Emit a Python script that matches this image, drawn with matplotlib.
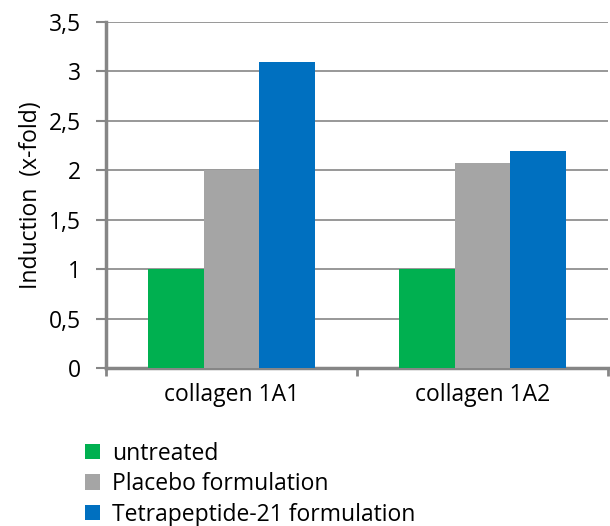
import numpy as np
import matplotlib.pyplot as plt
from matplotlib.ticker import FuncFormatter, MultipleLocator

plt.rcParams['font.family'] = ['Open Sans', 'DejaVu Sans']

# data
genes = ['collagen 1A1', 'collagen 1A2']
series = ['untreated', 'Placebo formulation', 'Tetrapeptide-21 formulation']
untreated = [1.0, 1.0]
placebo = [2.0, 2.07]
tetrapeptide = [3.1, 2.2]
colors = ['#00B050', '#A5A5A5', '#0070C0']

fig = plt.figure(figsize=(6.1, 5.26), dpi=100)
ax = fig.add_axes([0.1738, 0.3004, 0.8229, 0.6578])

x = np.arange(len(genes))
w = 0.223
for i, (vals, lab) in enumerate(zip([untreated, placebo, tetrapeptide], series)):
    ax.bar(x + (i - 1) * w, vals, width=w, color=colors[i], label=lab, zorder=3)

ax.set_xlim(-0.5, 1.5)
ax.set_ylim(0, 3.5)
ax.yaxis.set_major_locator(MultipleLocator(0.5))
ax.yaxis.set_major_formatter(FuncFormatter(lambda v, p: ('%g' % v).replace('.', ',')))
ax.yaxis.grid(True, color='#868686', linewidth=1.2, zorder=0)

ax.set_xticks([-0.5, 0.5, 1.5])
ax.set_xticklabels([])
ax.set_xticks(x, minor=True)
ax.set_xticklabels(genes, minor=True, fontsize=16.5)
ax.tick_params(axis='x', which='minor', length=0, pad=11)
ax.tick_params(axis='x', which='major', length=6, width=2, color='#868686')
ax.tick_params(axis='y', length=7, width=1.5, color='#868686', labelsize=16.5, pad=11)

for s in ['top', 'right']:
    ax.spines[s].set_visible(False)
for s in ['left', 'bottom']:
    ax.spines[s].set_color('#868686')
    ax.spines[s].set_linewidth(2.5)

ax.set_ylabel('Induction  (x-fold)', fontsize=16.5, labelpad=4)

handles, labels = ax.get_legend_handles_labels()
fig.legend(handles, labels, loc='upper left', bbox_to_anchor=(0.12, 0.182),
           frameon=False, fontsize=16.5, handlelength=0.65, handleheight=0.65,
           handletextpad=0.55, labelspacing=0.28, borderpad=0)

fig.savefig('out.png', dpi=100)
